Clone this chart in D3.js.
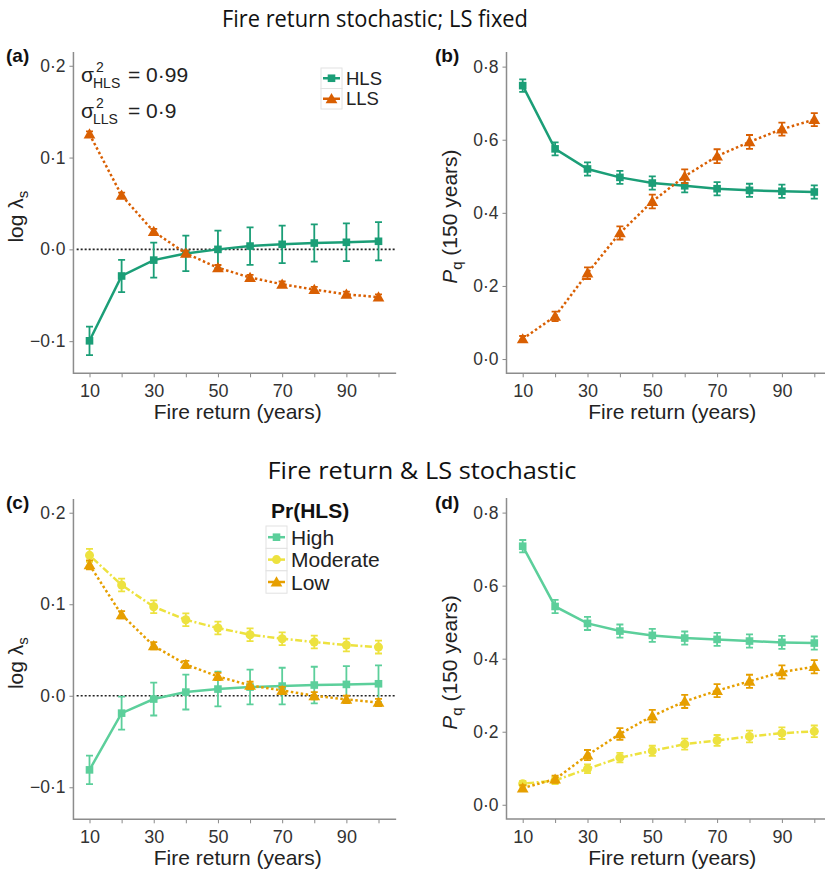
<!DOCTYPE html>
<html>
<head>
<meta charset="utf-8">
<script src="https://cdn.jsdelivr.net/npm/d3@7"></script>
<style>
  body { margin: 0; background: #fff; }
  svg { font-family: "Liberation Sans", Arial, sans-serif; }
</style>
</head>
<body>
<svg id="chart" width="825" height="877"></svg>
<script>
// fire return intervals (years)
const fireReturn = [10, 20, 30, 40, 50, 60, 70, 80, 90, 100];

// (a) log lambda_s, LS fixed
const lamHLS    = [-0.0996, -0.029, -0.0117, -0.0044, 0.0, 0.0036, 0.0055, 0.0069, 0.0077, 0.0088];
const lamHLSerr = [0.0155, 0.0175, 0.019, 0.0193, 0.0205, 0.0204, 0.0204, 0.0203, 0.0206, 0.0208];
const lamLLS    = [0.1255, 0.0588, 0.0193, -0.0044, -0.02, -0.0307, -0.038, -0.0438, -0.049, -0.052];
const lamLLSerr = [0.003, 0.003, 0.003, 0.003, 0.003, 0.003, 0.003, 0.003, 0.003, 0.003];

// (b) Pq (150 years), LS fixed
const pqHLS    = [0.748, 0.575, 0.52, 0.497, 0.4815, 0.474, 0.466, 0.4615, 0.459, 0.457];
const pqHLSerr = [0.017, 0.018, 0.018, 0.018, 0.018, 0.018, 0.018, 0.018, 0.018, 0.018];
const pqLLS    = [0.055, 0.117, 0.235, 0.345, 0.431, 0.5, 0.555, 0.594, 0.629, 0.655];
const pqLLSerr = [0.008, 0.013, 0.016, 0.018, 0.019, 0.019, 0.019, 0.019, 0.018, 0.018];

// (c) log lambda_s, LS stochastic
const lamHigh    = [-0.081, -0.019, -0.0036, 0.004, 0.0073, 0.0095, 0.0106, 0.0117, 0.0124, 0.0131];
const lamHighErr = [0.0155, 0.018, 0.018, 0.019, 0.019, 0.019, 0.02, 0.02, 0.02, 0.02];
const lamMod     = [0.1534, 0.121, 0.0973, 0.083, 0.074, 0.0667, 0.0623, 0.0587, 0.0554, 0.0532];
const lamModErr  = [0.007, 0.007, 0.007, 0.007, 0.007, 0.007, 0.007, 0.007, 0.007, 0.007];
const lamLow     = [0.143, 0.0885, 0.0546, 0.0342, 0.0211, 0.0113, 0.0058, 0.0, -0.004, -0.0073];
const lamLowErr  = [0.005, 0.004, 0.004, 0.004, 0.004, 0.004, 0.004, 0.004, 0.004, 0.004];

// (d) Pq (150 years), LS stochastic
const pqHigh    = [0.708, 0.543, 0.4966, 0.4756, 0.4638, 0.4565, 0.4528, 0.4483, 0.4446, 0.4428];
const pqHighErr = [0.017, 0.018, 0.018, 0.018, 0.018, 0.018, 0.018, 0.018, 0.018, 0.018];
const pqMod     = [0.0574, 0.0665, 0.0984, 0.129, 0.1476, 0.166, 0.176, 0.187, 0.196, 0.201];
const pqModErr  = [0.008, 0.01, 0.012, 0.013, 0.014, 0.015, 0.015, 0.016, 0.016, 0.016];
const pqLow     = [0.0456, 0.07, 0.136, 0.194, 0.243, 0.283, 0.3125, 0.338, 0.3636, 0.378];
const pqLowErr  = [0.008, 0.01, 0.014, 0.016, 0.017, 0.018, 0.018, 0.018, 0.018, 0.018];

const lamTicks = [-0.1, 0, 0.1, 0.2];
const pqTicks = [0, 0.2, 0.4, 0.6, 0.8];
const xLabelTicks = [10, 30, 50, 70, 90];

const col = {
  HLS: "#1b9e77", LLS: "#d95f02",
  High: "#5ccf9b", Moderate: "#ede23f", Low: "#e69f00"
};
const dash = { solid: null, dotted: "2.5,2.5", dotdash: "2,2.5,7,2.5" };

const svg = d3.select("#chart");
const fmt = d => (d < 0 ? "\u2212" : "") + Math.abs(d).toFixed(1).replace(".", "\u00b7");

function symbol(g, shape, x, y, c) {
  if (shape === "square") {
    g.append("rect").attr("x", x - 3.8).attr("y", y - 3.8).attr("width", 7.6).attr("height", 7.6).attr("fill", c);
  } else if (shape === "circle") {
    g.append("circle").attr("cx", x).attr("cy", y).attr("r", 4.5).attr("fill", c);
  } else {
    g.append("path").attr("d", d3.symbol(d3.symbolTriangle, 60)()).attr("transform", `translate(${x},${y + 1})`).attr("fill", c);
  }
}

function panel(cfg) {
  const x = d3.scaleLinear().domain([10, 100]).range(cfg.xr);
  const y = d3.scaleLinear().domain(cfg.yd).range(cfg.yr);
  const g = svg.append("g");

  // axes
  const xa = g.append("g").attr("transform", `translate(0,${cfg.yr[0]})`)
    .call(d3.axisBottom(x).tickValues(fireReturn).tickSize(4).tickPadding(4)
      .tickFormat(d => xLabelTicks.includes(d) ? d : ""));
  xa.select(".domain").remove();
  xa.selectAll(".tick line").attr("stroke", "#888");
  xa.selectAll(".tick text").attr("dy", "0.9em").style("font-size", "18px").attr("fill", "#333");
  const ya = g.append("g").attr("transform", `translate(${x(5)},0)`)
    .call(d3.axisLeft(y).tickValues(cfg.ticks).tickSize(4).tickPadding(4).tickFormat(fmt));
  ya.select(".domain").remove();
  ya.selectAll(".tick line").attr("stroke", "#888");
  ya.selectAll(".tick text").style("font-size", "17.5px").attr("fill", "#333");
  g.append("path").attr("d", `M${x(5)},${cfg.yr[1]}V${cfg.yr[0]}H${x(105.5)}`)
    .attr("fill", "none").attr("stroke", "#8c8c8c").attr("stroke-width", 1.5);

  if (cfg.zero) {
    g.append("line").attr("x1", x(6)).attr("x2", x(105.5)).attr("y1", y(0)).attr("y2", y(0))
      .attr("stroke", "#222").attr("stroke-width", 1.6).attr("stroke-dasharray", "2,2");
  }

  const line = d3.line().x((d, i) => x(fireReturn[i])).y(d => y(d));
  cfg.series.forEach(s => {
    const sg = g.append("g");
    sg.append("path").attr("d", line(s.v)).attr("fill", "none").attr("stroke", s.c)
      .attr("stroke-width", 2.5).attr("stroke-dasharray", dash[s.lt]);
    s.v.forEach((v, i) => {
      const xx = x(fireReturn[i]);
      const lo = y(v - s.e[i]), hi = y(v + s.e[i]);
      sg.append("path").attr("d", `M${xx - 3.5},${lo}H${xx + 3.5}M${xx},${lo}V${hi}M${xx - 3.5},${hi}H${xx + 3.5}`)
        .attr("stroke", s.c).attr("stroke-width", 1.8).attr("fill", "none");
      symbol(sg, s.sh, xx, y(v), s.c);
    });
  });

  // axis titles
  g.append("text").attr("x", (x(5) + x(105.5)) / 2 + 3).attr("y", cfg.yr[0] + 46)
    .attr("text-anchor", "middle").attr("font-size", 21).attr("fill", "#222").text("Fire return (years)");
  const yt = g.append("text").attr("transform", `translate(${x(5) - 50},${(cfg.yr[0] + cfg.yr[1]) / 2 + 4}) rotate(-90)`)
    .attr("text-anchor", "middle").attr("font-size", 21).attr("fill", "#222");
  if (cfg.ylab === "lam") {
    yt.append("tspan").text("log \u03bb");
    yt.append("tspan").attr("font-size", 15).attr("dy", 5).text("s");
  } else {
    yt.append("tspan").attr("font-style", "italic").text("P");
    yt.append("tspan").attr("font-size", 15).attr("dy", 5).text("q");
    yt.append("tspan").attr("dy", -5).text(" (150 years)");
  }
  g.append("text").attr("x", cfg.tag[0]).attr("y", cfg.tag[1]).attr("font-size", 19)
    .attr("font-weight", "bold").attr("fill", "#111").text(cfg.tag[2]);
  return { x, y, g };
}

function legendKeys(g, x0, y0, h, items, fs) {
  items.forEach((it, i) => {
    const yy = y0 + i * h;
    g.append("rect").attr("x", x0).attr("y", yy).attr("width", 21).attr("height", h)
      .attr("fill", "#fff").attr("stroke", "#e2e2e2").attr("stroke-width", 1);
    g.append("line").attr("x1", x0 + 2).attr("x2", x0 + 19).attr("y1", yy + h / 2).attr("y2", yy + h / 2)
      .attr("stroke", it.c).attr("stroke-width", 2.5);
    symbol(g, it.sh, x0 + 10.5, yy + h / 2, it.c);
    g.append("text").attr("x", x0 + 25).attr("y", yy + h / 2 + fs * 0.36).attr("font-size", fs)
      .attr("fill", "#222").text(it.n);
  });
}

// titles
svg.append("text").attr("x", 375).attr("y", 27).attr("text-anchor", "middle")
  .attr("font-family", "Open Sans").attr("font-size", 24).attr("fill", "#111")
  .attr("textLength", 306).attr("lengthAdjust", "spacingAndGlyphs").text("Fire return stochastic; LS fixed");
svg.append("text").attr("x", 422).attr("y", 479).attr("text-anchor", "middle")
  .attr("font-family", "Open Sans").attr("font-size", 24).attr("fill", "#111")
  .attr("textLength", 309).attr("lengthAdjust", "spacingAndGlyphs").text("Fire return & LS stochastic");

const lamDom = [-0.135, 0.215];
const pqDom = [-0.039, 0.84];

const pa = panel({
  xr: [89.5, 378.5], yr: [373.3, 52], yd: lamDom, ticks: lamTicks, zero: true, ylab: "lam",
  tag: [6, 62, "(a)"],
  series: [
    { v: lamHLS, e: lamHLSerr, c: col.HLS, lt: "solid", sh: "square" },
    { v: lamLLS, e: lamLLSerr, c: col.LLS, lt: "dotted", sh: "triangle" }
  ]
});
panel({
  xr: [522.7, 814.3], yr: [373.3, 52], yd: pqDom, ticks: pqTicks, ylab: "pq",
  tag: [435, 62, "(b)"],
  series: [
    { v: pqHLS, e: pqHLSerr, c: col.HLS, lt: "solid", sh: "square" },
    { v: pqLLS, e: pqLLSerr, c: col.LLS, lt: "dotted", sh: "triangle" }
  ]
});
const pc = panel({
  xr: [89.5, 378.5], yr: [819.3, 499], yd: lamDom, ticks: lamTicks, zero: true, ylab: "lam",
  tag: [6, 509, "(c)"],
  series: [
    { v: lamHigh, e: lamHighErr, c: col.High, lt: "solid", sh: "square" },
    { v: lamMod, e: lamModErr, c: col.Moderate, lt: "dotdash", sh: "circle" },
    { v: lamLow, e: lamLowErr, c: col.Low, lt: "dotted", sh: "triangle" }
  ]
});
panel({
  xr: [522.7, 814.3], yr: [819, 498], yd: pqDom, ticks: pqTicks, ylab: "pq",
  tag: [435, 509, "(d)"],
  series: [
    { v: pqHigh, e: pqHighErr, c: col.High, lt: "solid", sh: "square" },
    { v: pqMod, e: pqModErr, c: col.Moderate, lt: "dotdash", sh: "circle" },
    { v: pqLow, e: pqLowErr, c: col.Low, lt: "dotted", sh: "triangle" }
  ]
});

// legend (a)
legendKeys(pa.g, 321, 68, 20.5, [
  { n: "HLS", c: col.HLS, sh: "square" },
  { n: "LLS", c: col.LLS, sh: "triangle" }
], 18.5);

// variance annotations (a)
[["HLS", "0\u00b799", 81.5], ["LLS", "0\u00b79", 118]].forEach(([nm, val, by]) => {
  pa.g.append("text").attr("x", 81).attr("y", by).attr("font-size", 21).attr("fill", "#222").text("\u03c3");
  pa.g.append("text").attr("x", 96).attr("y", by - 10).attr("font-size", 14).attr("fill", "#222").text("2");
  pa.g.append("text").attr("x", 93).attr("y", by + 6).attr("font-size", 14).attr("fill", "#222").text(nm);
  pa.g.append("text").attr("x", 128).attr("y", by).attr("font-size", 21).attr("fill", "#222").text("= " + val);
});

// legend (c)
pc.g.append("text").attr("x", 271).attr("y", 518).attr("font-size", 21).attr("font-weight", "bold")
  .attr("fill", "#111").text("Pr(HLS)");
legendKeys(pc.g, 266, 526, 22.4, [
  { n: "High", c: col.High, sh: "square" },
  { n: "Moderate", c: col.Moderate, sh: "circle" },
  { n: "Low", c: col.Low, sh: "triangle" }
], 21);
</script>
</body>
</html>
